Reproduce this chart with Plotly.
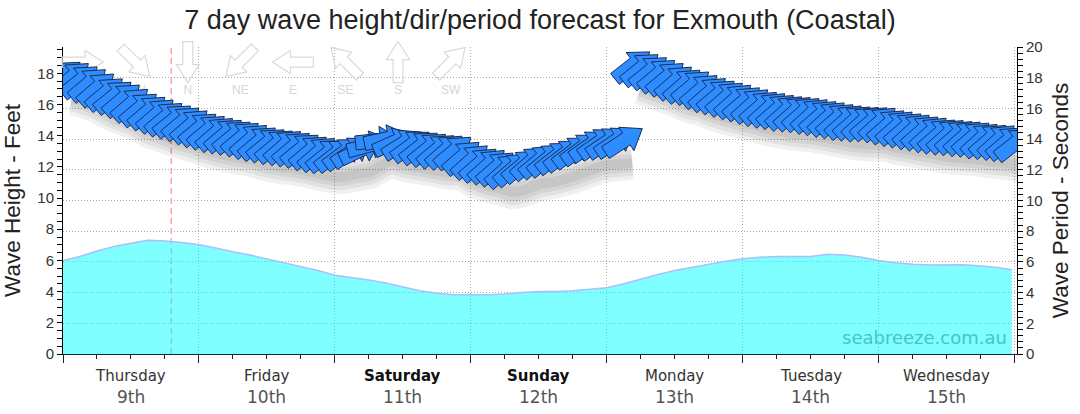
import math
import plotly.graph_objects as go

# ---------------- data ----------------
TITLE = "7 day wave height/dir/period forecast for Exmouth (Coastal)"
day_names = ["Thursday", "Friday", "Saturday", "Sunday", "Monday", "Tuesday", "Wednesday"]
day_dates = ["9th", "10th", "11th", "12th", "13th", "14th", "15th"]
bold_days = ["Saturday", "Sunday"]

# wave height (feet), hours from Thursday 00:00
height_hours = [0, 3, 6, 9, 12, 15, 18, 21, 24, 27, 30, 33, 36, 39, 42, 45, 48, 51, 54, 57,
                60, 63, 66, 69, 72, 75, 78, 81, 84, 87, 90, 93, 96, 99, 102, 105, 108, 111, 114, 117,
                120, 123, 126, 129, 132, 135, 138, 141, 144, 147, 150, 153, 156, 159, 162, 165, 167.5]
height_ft = [6.0, 6.25, 6.6, 6.9, 7.1, 7.3, 7.25, 7.15, 7.0, 6.8, 6.55, 6.35, 6.1, 5.85, 5.6, 5.35, 5.05, 4.9, 4.75, 4.55,
             4.3, 4.05, 3.9, 3.8, 3.8, 3.8, 3.85, 3.95, 4.0, 4.0, 4.05, 4.15, 4.25, 4.5, 4.8, 5.1, 5.35, 5.55, 5.75, 5.95,
             6.1, 6.2, 6.25, 6.25, 6.25, 6.4, 6.35, 6.2, 6.0, 5.85, 5.75, 5.7, 5.7, 5.72, 5.65, 5.55, 5.4]

# wave period (seconds) and direction (degrees, "from"), every 1.5 h
period_hours = [i * 1.5 for i in range(113)]
period_s = [18.1, 18.0, 17.8, 17.6, 17.3, 17.0, 16.8, 16.6, 16.3, 16.0,
            15.8, 15.6, 15.4, 15.25, 15.1, 14.9, 14.7, 14.55, 14.4, 14.3,
            14.2, 14.1, 13.95, 13.8, 13.7, 13.6, 13.55, 13.45, 13.35, 13.2,
            13.1, 13.0, 13.0, 13.1, 13.2, 13.3, 13.6, 13.9, 14.0, 13.8,
            13.7, 13.6, 13.5, 13.4, 13.3, 13.25, 13.2, 12.85, 12.6, 12.4,
            12.3, 12.15, 12.0, 12.1, 12.3, 12.5, 12.6, 12.7, 12.85, 13.0,
            13.2, 13.4, 13.6, 13.75, 13.8, 13.85, 13.9,
            18.8, 18.6, 18.4,
            18.2, 18.0, 17.75, 17.55, 17.45, 17.2, 17.0, 16.85, 16.7, 16.55,
            16.4, 16.25, 16.1, 16.0, 15.9, 15.8, 15.75, 15.7, 15.6, 15.5,
            15.4, 15.3, 15.2, 15.15, 15.1, 15.1, 15.05, 14.9, 14.8, 14.7,
            14.6, 14.5, 14.4, 14.3, 14.25, 14.2, 14.15, 14.1, 14.0, 13.95,
            13.9, 13.8, 13.7]
direction_deg = [231, 230, 231, 230, 229, 230, 231, 230, 229, 230,
                 230, 229, 230, 231, 230, 229, 230, 230, 229, 230,
                 231, 230, 229, 230, 231, 230, 229, 230, 231, 230,
                 229, 231, 232, 233, 236, 244, 255, 264, 258, 246,
                 238, 234, 232, 231, 230, 229, 230, 229, 228, 229,
                 228, 229, 228, 229, 230, 229, 230, 231, 232, 233,
                 233, 234, 235, 235, 236, 236, 237,
                 232, 231, 231,
                 230, 230, 229, 229, 230, 229, 229, 230, 229, 228,
                 229, 228, 229, 228, 229, 228, 228, 229, 228, 229,
                 228, 229, 228, 229, 228, 229, 228, 229, 228, 229,
                 228, 229, 228, 229, 228, 229, 228, 229, 228, 229,
                 228, 230, 232]

legend_dirs = ["W", "NW", "N", "NE", "E", "SE", "S", "SW"]
legend_from_deg = [270, 315, 0, 45, 90, 135, 180, 225]
now_hour = 19.1
watermark = "seabreeze.com.au"

# ---------------- styling ----------------
XMAX = 168.4
FT_MAX = 19.685
S_MAX = 20
FONT = "Liberation Sans, Arial, sans-serif"
LABEL_FONT = "DejaVu Sans, Verdana, sans-serif"


def arrow_path(from_deg, length, head_len, head_hw, shaft_hw):
    bearing = (from_deg + 180) % 360
    phi = math.radians(90 - bearing)
    h = length / 2
    pts = [(-h, -shaft_hw), (h - head_len, -shaft_hw), (h - head_len, -head_hw), (h, 0),
           (h - head_len, head_hw), (h - head_len, shaft_hw), (-h, shaft_hw)]
    c, s = math.cos(phi), math.sin(phi)
    rp = [(x * c - y * s, x * s + y * c) for x, y in pts]
    return "M" + "L".join(f"{x:.2f},{y:.2f}" for x, y in rp) + "Z"


fig = go.Figure()

# legend labels (text trace so that the data arrows can cover them)
LEG_X0, LEG_DX, LEG_Y, LEG_LABEL_Y2 = 0.0206, 0.0551, 0.951, 17.15
fig.add_trace(go.Scatter(
    x=[(LEG_X0 + k * LEG_DX) * XMAX for k in range(len(legend_dirs))],
    y=[LEG_LABEL_Y2] * len(legend_dirs), yaxis="y2", mode="text", text=legend_dirs,
    textfont=dict(family=FONT, size=12, color="#d6d6d6"), hoverinfo="skip", cliponaxis=False))

# wave height area
fig.add_trace(go.Scatter(
    x=height_hours, y=height_ft, yaxis="y", mode="lines", fill="tozeroy",
    fillcolor="rgba(0,255,255,0.5)", line=dict(color="#a9c0fb", width=1.5), hoverinfo="skip"))

# soft shadow beneath arrows (split where the period jumps)
segments, cur = [], [0]
for i in range(1, len(period_s)):
    if abs(period_s[i] - period_s[i - 1]) > 2:
        segments.append(cur)
        cur = []
    cur.append(i)
segments.append(cur)
for seg in segments:
    for w in (34, 26, 18, 10):
        fig.add_trace(go.Scatter(
            x=[period_hours[i] + 1.5 for i in seg], y=[period_s[i] - 1.45 for i in seg], yaxis="y2",
            mode="lines", line=dict(color="rgba(0,0,0,0.06)", width=w, shape="spline"),
            hoverinfo="skip"))

shapes = []
# current-time marker
shapes.append(dict(type="line", xref="x", yref="paper", x0=now_hour, x1=now_hour, y0=0, y1=1,
                   line=dict(color="#ff8e8e", width=1.2, dash="6px,4px"), layer="below"))
# direction legend arrows
for k, d in enumerate(legend_from_deg):
    shapes.append(dict(type="path", xref="paper", yref="paper", xsizemode="pixel", ysizemode="pixel",
                       xanchor=LEG_X0 + k * LEG_DX, yanchor=LEG_Y,
                       path=arrow_path(d, 41, 18, 11.5, 5),
                       fillcolor="rgba(0,0,0,0)", line=dict(color="#d9d9d9", width=1.2), layer="above"))
# data arrows
for t, p, d in zip(period_hours, period_s, direction_deg):
    shapes.append(dict(type="path", xref="x", yref="y2", xsizemode="pixel", ysizemode="pixel",
                       xanchor=t, yanchor=p, path=arrow_path(d, 44, 19, 14, 7),
                       fillcolor="#2d8cff", line=dict(color="#1d2d52", width=1), layer="above"))

annotations = []
for i, (n, dt) in enumerate(zip(day_names, day_dates)):
    bold = n in bold_days
    annotations.append(dict(x=12 + 24 * i, xref="x", y=0, yref="paper", yanchor="middle", yshift=-22,
                            text=f"<b>{n}</b>" if bold else n, showarrow=False,
                            font=dict(family=LABEL_FONT, size=15, color="#111" if bold else "#333")))
    annotations.append(dict(x=12 + 24 * i, xref="x", y=0, yref="paper", yanchor="middle", yshift=-43,
                            text=dt, showarrow=False,
                            font=dict(family=LABEL_FONT, size=17, color="#555")))
annotations.append(dict(x=1, xref="paper", xanchor="right", xshift=-8, y=0, yref="paper",
                        yanchor="bottom", yshift=4, text=watermark, showarrow=False,
                        font=dict(family=LABEL_FONT, size=18, color="#4bc3c3")))

fig.update_layout(
    width=1080, height=414, margin=dict(l=62, r=61, t=47, b=60),
    paper_bgcolor="white", plot_bgcolor="white", showlegend=False,
    title=dict(text=TITLE, x=0.5, xanchor="center", y=1 - 20 / 414, yanchor="middle",
               font=dict(family=FONT, size=27, color="#222")),
    xaxis=dict(range=[0, XMAX], tickvals=[24 * i for i in range(8)], ticktext=[""] * 8,
               ticks="outside", ticklen=8, tickcolor="#222", showline=True, linecolor="#14213d",
               showgrid=True, gridcolor="#a8a8a8", griddash="1px,2px", zeroline=False,
               minor=dict(dtick=6, tick0=0, ticks="outside", ticklen=4, tickcolor="#222", showgrid=False)),
    yaxis=dict(range=[0, FT_MAX], dtick=2, tick0=0, ticks="outside", ticklen=5, tickcolor="#000",
               showline=True, linecolor="#000", showgrid=False, zeroline=False,
               tickfont=dict(family=FONT, size=15, color="#333"),
               title=dict(text="Wave Height - Feet", standoff=10,
                          font=dict(family=FONT, size=22.5, color="#222")),
               minor=dict(dtick=0.5, tick0=0, ticks="outside", ticklen=5, tickcolor="#000", showgrid=False)),
    yaxis2=dict(range=[0, S_MAX], dtick=2, tick0=0, overlaying="y", side="right",
                ticks="outside", ticklen=5, tickcolor="#000", showline=True, linecolor="#000",
                showgrid=True, gridcolor="#a8a8a8", griddash="1px,2px", zeroline=False,
                tickfont=dict(family=FONT, size=15, color="#333"),
                title=dict(text="Wave Period - Seconds", standoff=10,
                           font=dict(family=FONT, size=22.5, color="#222")),
                minor=dict(dtick=0.4, tick0=0, ticks="outside", ticklen=5, tickcolor="#000", showgrid=False)),
    shapes=shapes, annotations=annotations,
)

fig.write_html("out.html")
